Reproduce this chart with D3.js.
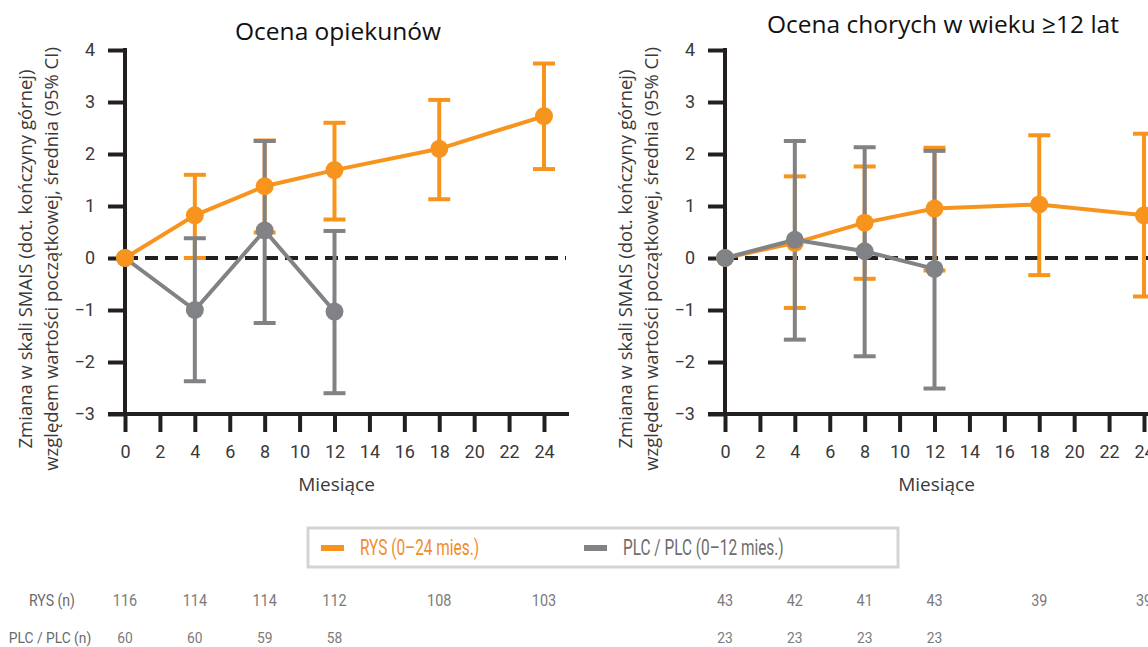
<!DOCTYPE html>
<html>
<head>
<meta charset="utf-8">
<script src="https://cdn.jsdelivr.net/npm/d3@7"></script>
<style>
  body { margin: 0; background: #fff; }
  svg { display: block; }
  .tick text { font-family: "Roboto", sans-serif; fill: #3a3a3a; }
  .narrow { font-family: "Roboto", sans-serif; }
</style>
</head>
<body>
<svg id="chart" width="1148" height="647"></svg>
<script>
// months where each series was measured
var rysMonths = [0, 4, 8, 12, 18, 24];
var plcMonths = [0, 4, 8, 12];
var xTickValues = [0, 2, 4, 6, 8, 10, 12, 14, 16, 18, 20, 22, 24];
var yTickValues = [-3, -2, -1, 0, 1, 2, 3, 4];

// Ocena opiekunow
var careRysMean = [0, 0.82, 1.38, 1.69, 2.10, 2.73];
var careRysLow = [0, 0, 0.49, 0.74, 1.13, 1.71];
var careRysHigh = [0, 1.60, 2.26, 2.60, 3.04, 3.74];
var carePlcMean = [0, -1.00, 0.53, -1.03];
var carePlcLow = [0, -2.37, -1.25, -2.60];
var carePlcHigh = [0, 0.38, 2.25, 0.52];
var careRysN = [116, 114, 114, 112, 108, 103];
var carePlcN = [60, 60, 59, 58];

// Ocena chorych w wieku >=12 lat
var selfRysMean = [0, 0.29, 0.68, 0.95, 1.03, 0.82];
var selfRysLow = [0, -0.96, -0.40, -0.24, -0.33, -0.74];
var selfRysHigh = [0, 1.57, 1.76, 2.12, 2.36, 2.39];
var selfPlcMean = [0, 0.35, 0.13, -0.21];
var selfPlcLow = [0, -1.57, -1.89, -2.51];
var selfPlcHigh = [0, 2.25, 2.13, 2.06];
var selfRysN = [43, 42, 41, 43, 39, 39];
var selfPlcN = [23, 23, 23, 23];

var ORANGE = "#f7941d";
var GREY = "#808285";
var INK = "#231f20";

var svg = d3.select("#chart");
svg.append("rect").attr("width", 1148).attr("height", 647).attr("fill", "#fff");

function series(months, mean, low, high) {
  return months.map(function (m, i) {
    return { m: m, v: mean[i], lo: low[i], hi: high[i] };
  });
}

// condensed text: squeeze horizontally around the anchor point
function narrowText(parent, x, y, txt, size, color, anchor, squeeze) {
  return parent.append("text")
    .attr("class", "narrow")
    .attr("transform", "translate(" + x + "," + y + ") scale(" + squeeze + ",1)")
    .attr("text-anchor", anchor)
    .style("font-size", size + "px")
    .attr("fill", color)
    .text(txt);
}

function drawPanel(opts) {
  var x = d3.scaleLinear().domain([0, 24]).range([opts.left, opts.left + 419]);
  var y = d3.scaleLinear().domain([-3, 4]).range([414, 50]);
  var g = svg.append("g");

  // title
  g.append("text")
    .attr("x", opts.titleX).attr("y", opts.titleY)
    .attr("text-anchor", "middle")
    .style("font-family", "'Open Sans', sans-serif")
    .style("font-size", opts.titleSize + "px")
    .attr("fill", "#111")
    .text(opts.title);

  // y axis title (two lines)
  ["Zmiana w skali SMAIS (dot. kończyny górnej)",
   "względem wartości początkowej, średnia (95% CI)"].forEach(function (line, i) {
    g.append("text")
      .attr("transform", "translate(" + (opts.left - 93 + i * 26) + ",259) rotate(-90)")
      .attr("text-anchor", "middle")
      .style("font-family", "'Open Sans', sans-serif")
      .style("font-size", "18.5px")
      .attr("fill", "#3a3a3a")
      .text(line);
  });

  // axes
  var yAxis = g.append("g")
    .attr("transform", "translate(" + x(0) + ",0)")
    .call(d3.axisLeft(y).tickValues(yTickValues).tickSize(17).tickPadding(13)
      .tickFormat(function (d) { return d < 0 ? "\u2212" + Math.abs(d) : d; }));
  yAxis.select(".domain").remove();
  yAxis.selectAll(".tick line").attr("stroke", INK).attr("stroke-width", 4);
  yAxis.selectAll(".tick text").style("font-size", "18px");

  var xAxis = g.append("g")
    .attr("transform", "translate(0," + y(-3) + ")")
    .call(d3.axisBottom(x).tickValues(xTickValues).tickSize(18).tickPadding(13));
  xAxis.select(".domain").remove();
  xAxis.selectAll(".tick line").attr("stroke", INK).attr("stroke-width", 4);
  xAxis.selectAll(".tick text").style("font-size", "18px");

  g.append("line")
    .attr("x1", x(0)).attr("x2", x(0))
    .attr("y1", y(4) - 2).attr("y2", y(-3) + 2)
    .attr("stroke", INK).attr("stroke-width", 4);
  g.append("line")
    .attr("x1", x(0) - 17).attr("x2", x(24) + 25)
    .attr("y1", y(-3)).attr("y2", y(-3))
    .attr("stroke", INK).attr("stroke-width", 4);

  g.append("text")
    .attr("x", x(12) + 2).attr("y", 491)
    .attr("text-anchor", "middle")
    .style("font-family", "'Open Sans', sans-serif")
    .style("font-size", "19px")
    .attr("fill", "#3a3a3a")
    .text("Miesiące");

  // zero reference
  g.append("line")
    .attr("x1", x(0)).attr("x2", x(24) + 22)
    .attr("y1", y(0)).attr("y2", y(0))
    .attr("stroke", INK).attr("stroke-width", 4)
    .attr("stroke-dasharray", "13,7");

  var rys = series(rysMonths, opts.rys[0], opts.rys[1], opts.rys[2]);
  var plc = series(plcMonths, opts.plc[0], opts.plc[1], opts.plc[2]);

  function errorBars(data, color) {
    var eb = g.append("g").selectAll("g")
      .data(data.filter(function (d) { return d.m > 0; }))
      .enter().append("g")
      .attr("stroke", color).attr("stroke-width", 4);
    eb.append("line")
      .attr("x1", function (d) { return x(d.m); }).attr("x2", function (d) { return x(d.m); })
      .attr("y1", function (d) { return y(d.lo); }).attr("y2", function (d) { return y(d.hi); });
    eb.append("line")
      .attr("x1", function (d) { return x(d.m) - 11; }).attr("x2", function (d) { return x(d.m) + 11; })
      .attr("y1", function (d) { return y(d.lo); }).attr("y2", function (d) { return y(d.lo); });
    eb.append("line")
      .attr("x1", function (d) { return x(d.m) - 11; }).attr("x2", function (d) { return x(d.m) + 11; })
      .attr("y1", function (d) { return y(d.hi); }).attr("y2", function (d) { return y(d.hi); });
  }
  errorBars(rys, ORANGE);
  errorBars(plc, GREY);

  var line = d3.line().x(function (d) { return x(d.m); }).y(function (d) { return y(d.v); });
  g.append("path").datum(rys).attr("d", line)
    .attr("fill", "none").attr("stroke", ORANGE).attr("stroke-width", 4);
  g.append("path").datum(plc).attr("d", line)
    .attr("fill", "none").attr("stroke", GREY).attr("stroke-width", 4);

  function dots(data, color) {
    g.append("g").selectAll("circle")
      .data(data).enter().append("circle")
      .attr("cx", function (d) { return x(d.m); })
      .attr("cy", function (d) { return y(d.v); })
      .attr("r", 9)
      .attr("fill", color);
  }
  if (opts.greyOnTop) { dots(rys, ORANGE); dots(plc, GREY); }
  else { dots(plc, GREY); dots(rys, ORANGE); }

  // number at risk rows
  opts.rysN.forEach(function (d, i) {
    narrowText(g, x(rysMonths[i]), 606, d, 16, "#7a7a7a", "middle", 0.9);
  });
  opts.plcN.forEach(function (d, i) {
    narrowText(g, x(plcMonths[i]), 643, d, 15, "#7a7a7a", "middle", 0.92);
  });
}

drawPanel({
  left: 125, title: "Ocena opiekunów", titleX: 338, titleY: 40, titleSize: 24.5,
  rys: [careRysMean, careRysLow, careRysHigh],
  plc: [carePlcMean, carePlcLow, carePlcHigh],
  rysN: careRysN, plcN: carePlcN, greyOnTop: false
});
drawPanel({
  left: 725, title: "Ocena chorych w wieku \u226512 lat", titleX: 943, titleY: 33, titleSize: 24.5,
  rys: [selfRysMean, selfRysLow, selfRysHigh],
  plc: [selfPlcMean, selfPlcLow, selfPlcHigh],
  rysN: selfRysN, plcN: selfPlcN, greyOnTop: true
});

// row labels
narrowText(svg, 52, 606, "RYS (n)", 16, "#6a6a6a", "middle", 0.88);
narrowText(svg, 50, 643, "PLC / PLC (n)", 15, "#6a6a6a", "middle", 0.92);

// legend
var legend = svg.append("g");
legend.append("rect")
  .attr("x", 308).attr("y", 528).attr("width", 590).attr("height", 39)
  .attr("fill", "#fff").attr("stroke", "#d4d4d4").attr("stroke-width", 3);
var legendItems = [
  { label: "RYS (0–24 mies.)", color: ORANGE, x: 321, text: "#f28c2a" },
  { label: "PLC / PLC (0–12 mies.)", color: GREY, x: 584, text: "#6d6d6d" }
];
legendItems.forEach(function (d) {
  legend.append("rect")
    .attr("x", d.x).attr("y", 545).attr("width", 23).attr("height", 6)
    .attr("fill", d.color);
  narrowText(legend, d.x + 39, 555, d.label, 22, d.text, "start", 0.7);
});
</script>
</body>
</html>
